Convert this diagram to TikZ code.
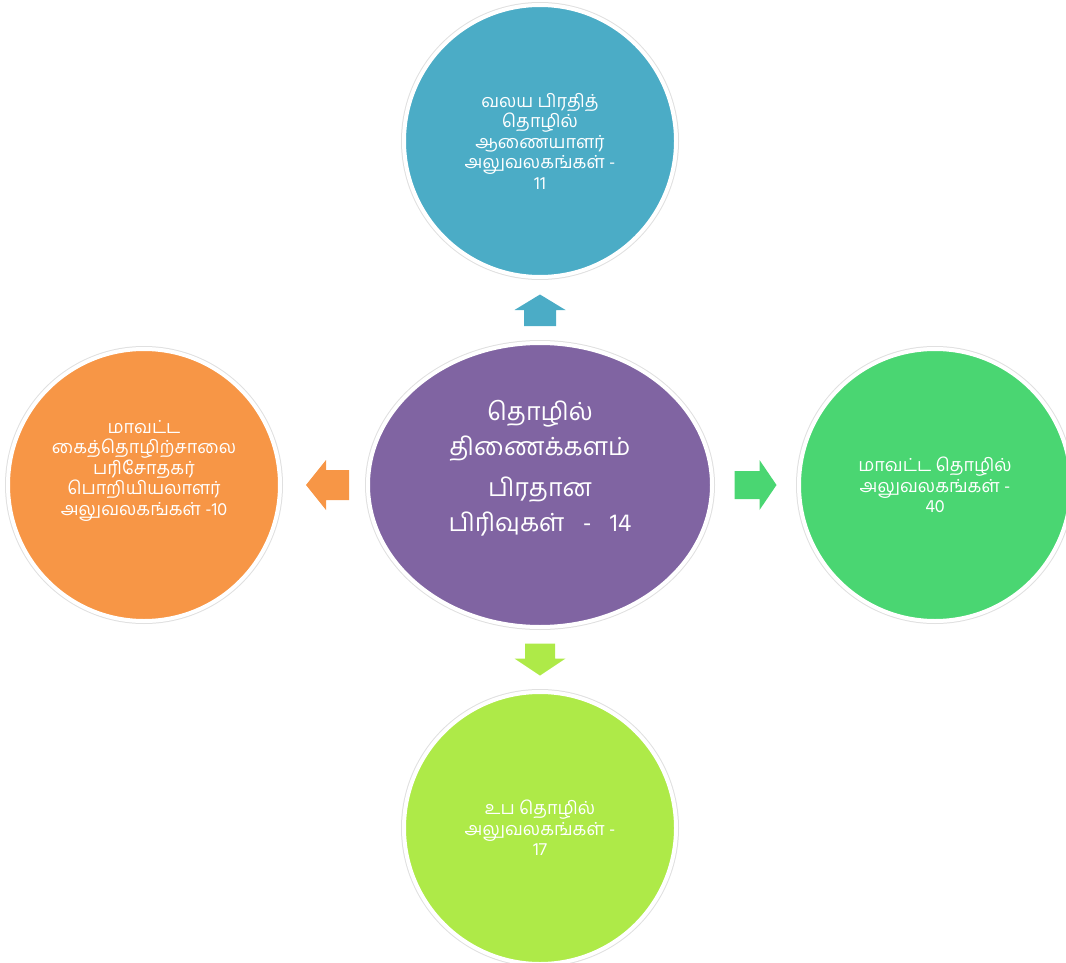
\documentclass[tikz,border=0pt]{standalone}
\usepackage{fontspec}
\usepackage{tikz}
\usetikzlibrary{positioning}
\usetikzlibrary{calc}
\usetikzlibrary{shapes.geometric}

\newfontfamily\tamil[Script=Tamil]{Hind Madurai}

\definecolor{topBlue}{HTML}{4BACC6}
\definecolor{midPurple}{HTML}{8064A2}
\definecolor{leftOrange}{HTML}{F79646}
\definecolor{rightGreen}{HTML}{4AD672}
\definecolor{lowLime}{HTML}{AEEA48}

\tikzset{
	bubble/.style={
		circle,
		minimum size=272pt,
		fill=#1,
		draw=white,
		line width=4pt,
		preaction={draw=black!12, line width=6pt},
		text=white,
		align=center,
		font=\tamil\fontsize{18}{20.5}\selectfont
	}
}

\begin{document}
\begin{tikzpicture}[x=1pt, y=-1pt]
\useasboundingbox (0,0) rectangle (1066,963);

\node[
	ellipse,
	minimum width=344pt,
	minimum height=284pt,
	fill=midPurple,
	draw=white,
	line width=4pt,
	preaction={draw=black!12, line width=6pt},
	text=white,
	align=center,
	font=\tamil\fontsize{25}{35}\selectfont
] (centre) at (540,485) {தொழில்\\திணைக்களம்\\[6pt]பிரதான\\பிரிவுகள்\ \ \ -\ \ \ 14\\[4pt]};

\node[
	bubble=topBlue,
	above=62pt of centre
] (regional) {வலய பிரதித்\\தொழில்\\ஆணையாளர்\\அலுவலகங்கள் -\\11};

\node[
	bubble=leftOrange,
	left=84pt of centre
] (factory) {மாவட்ட\\கைத்தொழிற்சாலை\\பரிசோதகர்\\பொறியியலாளர்\\அலுவலகங்கள் -10\\[14pt]};

\node[
	bubble=rightGreen,
	right=83pt of centre
] (district) {மாவட்ட தொழில்\\அலுவலகங்கள் -\\40};

\node[
	bubble=lowLime,
	below=61pt of centre
] (sub) {உப தொழில்\\அலுவலகங்கள் -\\17};

% ---

\coordinate (upArrow) at ($(centre.north)!0.5!(regional.south)$);
\coordinate (leftArrow) at ($(centre.west)!0.5!(factory.east)$);
\coordinate (rightArrow) at ($(centre.east)!0.5!(district.west)$);
\coordinate (downArrow) at ($(centre.south)!0.5!(sub.north)$);

\fill[topBlue] ($(upArrow) + (-16, 16)$) -- ($(upArrow) + (-16, 0)$) -- ($(upArrow) + (-25.5, 0)$)
	-- ($(upArrow) + (0, -15.5)$) -- ($(upArrow) + (25.5, 0)$) -- ($(upArrow) + (16, 0)$)
	-- ($(upArrow) + (16, 16)$) -- cycle;

\fill[leftOrange] ($(leftArrow) + (25, -15)$) -- ($(leftArrow) + (2, -15)$) -- ($(leftArrow) + (2, -25)$)
	-- ($(leftArrow) + (-18, 0)$) -- ($(leftArrow) + (2, 25)$) -- ($(leftArrow) + (2, 15)$)
	-- ($(leftArrow) + (25, 15)$) -- cycle;

\fill[rightGreen] ($(rightArrow) + (-21, -14)$) -- ($(rightArrow) + (4, -14)$) -- ($(rightArrow) + (4, -25)$)
	-- ($(rightArrow) + (21, 0)$) -- ($(rightArrow) + (4, 25)$) -- ($(rightArrow) + (4, 14)$)
	-- ($(rightArrow) + (-21, 14)$) -- cycle;

\fill[lowLime] ($(downArrow) + (-15, -16)$) -- ($(downArrow) + (-15, -1)$) -- ($(downArrow) + (-25.5, -1)$)
	-- ($(downArrow) + (0, 16)$) -- ($(downArrow) + (25.5, -1)$) -- ($(downArrow) + (15, -1)$)
	-- ($(downArrow) + (15, -16)$) -- cycle;

\end{tikzpicture}
\end{document}
